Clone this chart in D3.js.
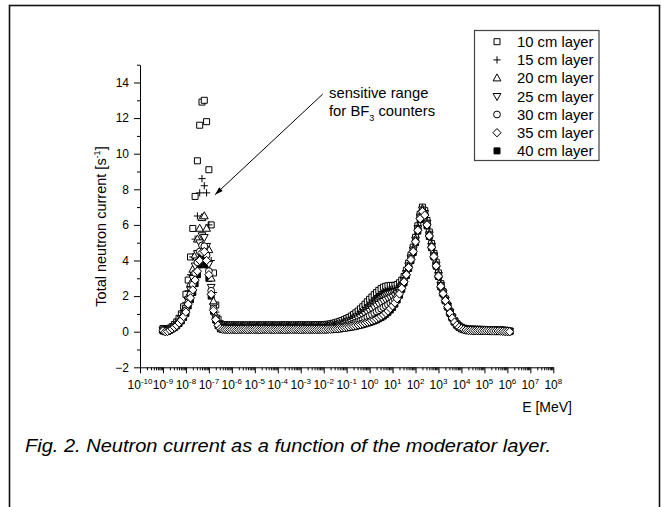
<!DOCTYPE html>
<html><head><meta charset="utf-8">
<script src="https://cdn.jsdelivr.net/npm/d3@7"></script>
<style>
body{margin:0;background:#fff}
svg{display:block}
text{font-family:"Liberation Sans",Arial,Helvetica,sans-serif;fill:#000}
</style>
</head><body>
<svg id="chart" width="669" height="507"></svg>
<script>
// ---------- DATA ----------
// energy grid, as exponents of 10 (MeV)
const energyExponent = [
-9.0,-8.9,-8.8,-8.7,-8.6,-8.5,-8.4,-8.3,-8.2,-8.1,
-8.0,-7.9,-7.8,-7.7,-7.6,-7.5,-7.4,-7.3,-7.2,-7.1,
-7.0,-6.9,-6.8,-6.7,-6.6,-6.5,-6.4,-6.3,-6.2,-6.1,
-6.0,-5.9,-5.8,-5.7,-5.6,-5.5,-5.4,-5.3,-5.2,-5.1,
-5.0,-4.9,-4.8,-4.7,-4.6,-4.5,-4.4,-4.3,-4.2,-4.1,
-4.0,-3.9,-3.8,-3.7,-3.6,-3.5,-3.4,-3.3,-3.2,-3.1,
-3.0,-2.9,-2.8,-2.7,-2.6,-2.5,-2.4,-2.3,-2.2,-2.1,
-2.0,-1.9,-1.8,-1.7,-1.6,-1.5,-1.4,-1.3,-1.2,-1.1,
-1.0,-0.9,-0.8,-0.7,-0.6,-0.5,-0.4,-0.3,-0.2,-0.1,
0.0,0.1,0.2,0.3,0.4,0.5,0.6,0.7,0.8,0.9,
1.0,1.1,1.2,1.3,1.4,1.5,1.6,1.7,1.8,1.9,
2.0,2.1,2.2,2.3,2.4,2.5,2.6,2.7,2.8,2.9,
3.0,3.1,3.2,3.3,3.4,3.5,3.6,3.7,3.8,3.9,
4.0,4.1,4.2,4.3,4.4,4.5,4.6,4.7,4.8,4.9,
5.0,5.1,5.2,5.3,5.4,5.5,5.6,5.7,5.8,5.9,
6.0,6.1];

const layer10 = [
0.18,0.14,0.15,0.2,0.28,0.4,0.55,0.75,1.0,1.4,
2.1,2.9,4.2,5.8,7.6,9.6,11.6,12.9,13.0,11.8,
9.1,6.0,3.3,1.5,0.7,0.45,0.4,0.39,0.38,0.38,
0.38,0.38,0.38,0.37,0.38,0.38,0.37,0.38,0.38,0.38,
0.37,0.38,0.38,0.38,0.38,0.37,0.38,0.38,0.38,0.38,
0.37,0.38,0.38,0.38,0.38,0.38,0.37,0.38,0.38,0.38,
0.38,0.38,0.38,0.38,0.38,0.39,0.39,0.39,0.39,0.4,
0.40,0.41,0.42,0.44,0.47,0.5,0.54,0.58,0.63,0.68,
0.74,0.8,0.88,0.96,1.06,1.16,1.28,1.4,1.54,1.68,
1.82,1.95,2.08,2.2,2.32,2.42,2.5,2.55,2.58,2.6,
2.6,2.6,2.65,2.75,2.9,3.1,3.45,3.85,4.3,4.75,
5.3,5.95,6.6,7.0,6.8,6.25,5.6,4.95,4.4,3.9,
3.3,2.7,2.25,1.85,1.5,1.15,0.85,0.62,0.45,0.33,
0.25,0.2,0.17,0.15,0.15,0.14,0.14,0.13,0.13,0.13,
0.12,0.12,0.12,0.12,0.11,0.11,0.1,0.1,0.09,0.08,
0.06,0.05];

const layer15 = [
0.15,0.11,0.12,0.17,0.25,0.35,0.48,0.66,0.88,1.18,
1.65,2.3,3.2,4.2,5.2,6.5,7.8,8.6,8.2,7.8,
6.0,4.0,2.2,1.1,0.55,0.38,0.34,0.33,0.33,0.33,
0.33,0.33,0.32,0.33,0.33,0.33,0.32,0.33,0.33,0.33,
0.32,0.33,0.33,0.33,0.33,0.32,0.33,0.33,0.33,0.33,
0.33,0.32,0.33,0.33,0.33,0.33,0.33,0.32,0.33,0.33,
0.33,0.33,0.33,0.33,0.33,0.33,0.34,0.34,0.34,0.34,
0.34,0.35,0.36,0.38,0.4,0.43,0.46,0.5,0.54,0.59,
0.64,0.7,0.77,0.84,0.93,1.02,1.13,1.24,1.36,1.48,
1.6,1.73,1.85,1.97,2.08,2.17,2.24,2.3,2.35,2.38,
2.4,2.42,2.5,2.6,2.78,3.0,3.38,3.8,4.25,4.7,
5.25,5.9,6.55,6.95,6.75,6.2,5.55,4.9,4.35,3.85,
3.25,2.65,2.22,1.82,1.47,1.12,0.83,0.6,0.43,0.31,
0.23,0.18,0.15,0.13,0.13,0.12,0.12,0.11,0.11,0.11,
0.1,0.1,0.1,0.1,0.09,0.09,0.09,0.08,0.07,0.06,
0.05,0.04];

const layer20 = [
0.12,0.08,0.1,0.15,0.22,0.32,0.44,0.6,0.8,1.05,
1.45,2.0,2.7,3.5,4.3,5.2,5.8,6.4,6.5,5.8,
4.6,3.0,1.7,0.9,0.48,0.32,0.29,0.28,0.28,0.28,
0.28,0.28,0.27,0.28,0.28,0.28,0.28,0.27,0.28,0.28,
0.28,0.27,0.28,0.28,0.28,0.28,0.28,0.28,0.27,0.28,
0.28,0.28,0.28,0.27,0.28,0.28,0.28,0.28,0.28,0.28,
0.27,0.28,0.28,0.28,0.28,0.28,0.28,0.29,0.29,0.29,
0.29,0.3,0.31,0.32,0.34,0.36,0.39,0.42,0.46,0.5,
0.55,0.6,0.66,0.72,0.8,0.88,0.97,1.07,1.18,1.29,
1.4,1.51,1.62,1.73,1.83,1.92,2.0,2.06,2.11,2.15,
2.18,2.22,2.32,2.45,2.68,2.95,3.33,3.75,4.2,4.65,
5.2,5.85,6.5,6.9,6.7,6.15,5.5,4.85,4.3,3.8,
3.2,2.62,2.2,1.8,1.45,1.1,0.81,0.58,0.41,0.29,
0.21,0.16,0.13,0.11,0.11,0.1,0.1,0.1,0.1,0.09,
0.09,0.09,0.08,0.08,0.08,0.08,0.07,0.07,0.06,0.05,
0.04,0.03];

const layer25 = [
0.1,0.05,0.07,0.13,0.2,0.29,0.41,0.55,0.73,0.95,
1.3,1.8,2.35,3.0,3.7,4.4,5.0,5.4,5.3,4.8,
3.8,2.5,1.4,0.78,0.42,0.27,0.24,0.23,0.23,0.23,
0.23,0.23,0.22,0.23,0.23,0.23,0.22,0.23,0.23,0.23,
0.23,0.22,0.23,0.23,0.23,0.23,0.22,0.23,0.23,0.23,
0.22,0.23,0.23,0.23,0.23,0.23,0.22,0.23,0.23,0.23,
0.23,0.23,0.22,0.23,0.23,0.23,0.23,0.23,0.24,0.24,
0.24,0.24,0.25,0.26,0.27,0.29,0.31,0.34,0.37,0.41,
0.45,0.49,0.54,0.59,0.65,0.72,0.8,0.88,0.97,1.06,
1.15,1.25,1.35,1.45,1.54,1.63,1.71,1.78,1.84,1.9,
1.95,2.02,2.14,2.3,2.56,2.88,3.28,3.7,4.15,4.6,
5.15,5.8,6.45,6.85,6.65,6.1,5.45,4.8,4.27,3.75,
3.17,2.6,2.18,1.78,1.43,1.08,0.79,0.56,0.39,0.27,
0.19,0.14,0.11,0.1,0.09,0.09,0.09,0.08,0.08,0.08,
0.08,0.07,0.07,0.07,0.07,0.06,0.06,0.05,0.05,0.04,
0.03,0.02];

const layer30 = [
0.08,0.03,0.05,0.11,0.18,0.27,0.38,0.52,0.68,0.9,
1.2,1.65,2.1,2.65,3.3,3.9,4.5,4.85,4.8,4.3,
3.4,2.3,1.3,0.72,0.38,0.22,0.19,0.18,0.18,0.18,
0.18,0.18,0.17,0.18,0.18,0.18,0.18,0.17,0.18,0.18,
0.18,0.18,0.17,0.18,0.18,0.18,0.18,0.18,0.17,0.18,
0.18,0.18,0.18,0.17,0.18,0.18,0.18,0.18,0.18,0.18,
0.17,0.18,0.18,0.18,0.18,0.18,0.18,0.18,0.19,0.19,
0.19,0.19,0.2,0.2,0.21,0.23,0.25,0.27,0.29,0.32,
0.35,0.38,0.42,0.46,0.51,0.56,0.62,0.68,0.75,0.82,
0.9,0.97,1.05,1.13,1.21,1.29,1.37,1.44,1.52,1.6,
1.69,1.8,1.97,2.2,2.5,2.84,3.23,3.65,4.1,4.55,
5.1,5.75,6.4,6.8,6.6,6.05,5.42,4.78,4.25,3.72,
3.15,2.58,2.16,1.76,1.41,1.06,0.78,0.55,0.38,0.26,
0.18,0.13,0.1,0.08,0.08,0.07,0.07,0.07,0.07,0.06,
0.06,0.06,0.06,0.05,0.05,0.05,0.05,0.04,0.03,0.02,
0.01,0.0];

const layer35 = [
0.05,0.0,0.02,0.09,0.16,0.25,0.35,0.49,0.65,0.85,
1.1,1.55,1.9,2.35,2.9,3.4,4.0,4.45,4.5,4.0,
3.2,2.1,1.2,0.68,0.36,0.18,0.14,0.13,0.13,0.13,
0.13,0.13,0.12,0.13,0.13,0.13,0.13,0.12,0.13,0.13,
0.13,0.13,0.12,0.13,0.13,0.13,0.13,0.13,0.12,0.13,
0.13,0.13,0.13,0.12,0.13,0.13,0.13,0.13,0.13,0.13,
0.12,0.13,0.13,0.13,0.13,0.13,0.13,0.13,0.13,0.13,
0.13,0.13,0.14,0.14,0.15,0.16,0.17,0.19,0.21,0.23,
0.25,0.27,0.3,0.32,0.35,0.38,0.41,0.45,0.49,0.53,
0.57,0.62,0.67,0.73,0.8,0.87,0.95,1.05,1.16,1.3,
1.45,1.62,1.85,2.12,2.44,2.8,3.2,3.6,4.05,4.5,
5.05,5.7,6.35,6.75,6.55,6.0,5.38,4.75,4.22,3.7,
3.12,2.55,2.14,1.75,1.4,1.05,0.77,0.54,0.37,0.25,
0.17,0.12,0.09,0.07,0.07,0.06,0.06,0.06,0.06,0.05,
0.05,0.05,0.05,0.04,0.04,0.04,0.04,0.03,0.02,0.01,
0.01,0.0];

const layer40 = [
0.04,0.0,0.01,0.08,0.15,0.23,0.33,0.46,0.61,0.8,
1.03,1.45,1.8,2.2,2.7,3.2,3.75,4.15,4.2,3.75,
3.0,2.0,1.15,0.65,0.34,0.16,0.12,0.11,0.11,0.11,
0.11,0.11,0.1,0.11,0.11,0.11,0.11,0.1,0.11,0.11,
0.11,0.11,0.1,0.11,0.11,0.11,0.11,0.11,0.1,0.11,
0.11,0.11,0.11,0.1,0.11,0.11,0.11,0.11,0.11,0.11,
0.1,0.11,0.11,0.11,0.11,0.11,0.11,0.11,0.11,0.11,
0.11,0.11,0.12,0.12,0.13,0.14,0.15,0.16,0.18,0.2,
0.22,0.24,0.26,0.28,0.31,0.34,0.37,0.4,0.44,0.48,
0.52,0.56,0.61,0.66,0.73,0.8,0.88,0.98,1.09,1.22,
1.37,1.55,1.78,2.05,2.38,2.75,3.15,3.55,4.0,4.45,
5.0,5.65,6.3,6.7,6.5,5.95,5.35,4.72,4.2,3.68,
3.1,2.52,2.12,1.73,1.38,1.03,0.76,0.53,0.36,0.24,
0.16,0.11,0.08,0.06,0.06,0.05,0.05,0.05,0.05,0.04,
0.04,0.04,0.04,0.03,0.03,0.03,0.03,0.02,0.02,0.01,
0.01,0.0];

const seriesLabels = ["10 cm layer","15 cm layer","20 cm layer","25 cm layer","30 cm layer","35 cm layer","40 cm layer"];
const seriesSymbols = ["square","plus","triUp","triDown","circle","diamond","filledSquare"];
const seriesValues = [layer10, layer15, layer20, layer25, layer30, layer35, layer40];
const drawOrder = [6,0,1,2,3,4,5];

const yMajorTicks = [-2,0,2,4,6,8,10,12,14];
const yMinorTicks = [-1,1,3,5,7,9,11,13,15];
const xMajorExponents = [-10,-9,-8,-7,-6,-5,-4,-3,-2,-1,0,1,2,3,4,5,6,7,8];

const yAxisTitle = "Total neutron current [s";
const xAxisTitle = "E [MeV]";
const noteLine1 = "sensitive range";
const captionText = "Fig. 2. Neutron current as a function of the moderator layer.";
// annotation arrow, in data coordinates: [exponent, value]
const arrowFrom = [-2.04, 13.35];
const arrowTo = [-6.73, 7.7];

// ---------- CHART ----------
const svg = d3.select("#chart");
svg.append("rect").attr("x",0).attr("y",0).attr("width",669).attr("height",507).attr("fill","#fff");
svg.append("rect").attr("x",9.5).attr("y",5.5).attr("width",650).attr("height",530)
  .attr("fill","none").attr("stroke","#111").attr("stroke-width",1.6);

const x = d3.scaleLog().domain([1e-10,1e8]).range([140,553.3]);
const y = d3.scaleLinear().domain([-2,15]).range([367.3,64.7]);

// y axis
const yAxisG = svg.append("g").attr("transform","translate(140,0)");
yAxisG.call(d3.axisLeft(y).tickValues(yMajorTicks).tickSize(6).tickSizeOuter(0).tickPadding(5).tickFormat(d3.format("d")));
svg.append("g").attr("transform","translate(140,0)")
  .call(d3.axisLeft(y).tickValues(yMinorTicks).tickSize(3).tickSizeOuter(0).tickFormat(""))
  .select(".domain").remove();
yAxisG.selectAll("text").style("font-size","12px").style("font-family","'Liberation Sans',Arial,sans-serif");

// x axis
const xAxisY = y(-2);
const xMajorVals = xMajorExponents.map(e => Math.pow(10,e));
const xMinorVals = [];
xMajorExponents.slice(0,-1).forEach(e => { [2,3,4,5,6,7,8,9].forEach(m => xMinorVals.push(m*Math.pow(10,e))); });
const xAxisG = svg.append("g").attr("transform",`translate(0,${xAxisY})`);
xAxisG.call(d3.axisBottom(x).tickValues(xMajorVals).tickSize(6).tickSizeOuter(0).tickFormat(""));
svg.append("g").attr("transform",`translate(0,${xAxisY})`)
  .call(d3.axisBottom(x).tickValues(xMinorVals).tickSize(3).tickSizeOuter(0).tickFormat(""))
  .select(".domain").remove();
svg.selectAll(".domain, .tick line").attr("stroke","#000").attr("stroke-width",1);

xMajorExponents.forEach(e => {
  const t = svg.append("text").attr("x", x(Math.pow(10,e))).attr("y", xAxisY+21.5)
    .attr("text-anchor","middle").style("font-size","12px");
  t.append("tspan").text("10");
  t.append("tspan").attr("dy",-5).style("font-size","8px").text(String(e));
});

// axis titles
const yt = svg.append("text").attr("transform","translate(106,226.5) rotate(-90)")
  .attr("text-anchor","middle").style("font-size","14.5px");
yt.append("tspan").text(yAxisTitle);
yt.append("tspan").attr("dy",-6).style("font-size","9px").text("-1");
yt.append("tspan").attr("dy",6).text("]");

svg.append("text").attr("x",572).attr("y",412).attr("text-anchor","end").style("font-size","14px").text(xAxisTitle);

// symbols
function symbolPath(type){
  switch(type){
    case "square": case "filledSquare": return "M-3,-3h6v6h-6z";
    case "plus": return "M-3.6,0h7.2M0,-3.6v7.2";
    case "triUp": return "M0,-4.2L3.9,2.8L-3.9,2.8Z";
    case "triDown": return "M0,4.2L3.9,-2.8L-3.9,-2.8Z";
    case "diamond": return "M0,-4.2L4.1,0L0,4.2L-4.1,0Z";
  }
  return null;
}
function drawSymbol(g, type, cx, cy){
  if(type==="circle"){
    g.append("circle").attr("cx",cx).attr("cy",cy).attr("r",3.4)
      .attr("fill","#fff").attr("stroke","#000").attr("stroke-width",1);
  } else {
    g.append("path").attr("d",symbolPath(type)).attr("transform",`translate(${cx},${cy})`)
      .attr("fill", type==="plus" ? "none" : (type==="filledSquare" ? "#000" : "#fff"))
      .attr("stroke","#000").attr("stroke-width",1);
  }
}

const plotG = svg.append("g");
drawOrder.forEach(si => {
  const vals = seriesValues[si];
  const g = plotG.append("g");
  const n = Math.min(vals.length, energyExponent.length);
  for(let i=0;i<n;i++){
    drawSymbol(g, seriesSymbols[si], x(Math.pow(10,energyExponent[i])), y(vals[i]));
  }
});

// legend
const lg = svg.append("g");
lg.append("rect").attr("x",474.5).attr("y",30.5).attr("width",124.5).attr("height",130)
  .attr("fill","#fff").attr("stroke","#444").attr("stroke-width",1.2);
seriesLabels.forEach((lab,i) => {
  const cy = 41.7 + i*18.2;
  drawSymbol(lg, seriesSymbols[i], 497, cy);
  lg.append("text").attr("x",517).attr("y",cy+5.2).style("font-size","14.8px").text(lab);
});

// annotation
const ax1 = x(Math.pow(10,arrowFrom[0])), ay1 = y(arrowFrom[1]);
const ax2 = x(Math.pow(10,arrowTo[0])), ay2 = y(arrowTo[1]);
svg.append("line").attr("x1",ax1).attr("y1",ay1).attr("x2",ax2).attr("y2",ay2)
  .attr("stroke","#000").attr("stroke-width",1);
const ang = Math.atan2(ay2-ay1, ax2-ax1);
const hl = 8, hw = 2.6;
const bx = ax2 - hl*Math.cos(ang), by = ay2 - hl*Math.sin(ang);
svg.append("path").attr("d",`M${ax2},${ay2}L${bx + hw*Math.sin(ang)},${by - hw*Math.cos(ang)}L${bx - hw*Math.sin(ang)},${by + hw*Math.cos(ang)}Z`)
  .attr("fill","#000");
svg.append("text").attr("x",329).attr("y",98).style("font-size","14.8px").text(noteLine1);
const n2 = svg.append("text").attr("x",329).attr("y",116).style("font-size","14.8px");
n2.append("tspan").text("for BF");
n2.append("tspan").attr("dy",5).style("font-size","9px").text("3");
n2.append("tspan").attr("dy",-5).text(" counters");

// caption
svg.append("text").attr("x",25).attr("y",452).style("font-size","19px").style("font-style","italic")
  .attr("textLength",526).attr("lengthAdjust","spacingAndGlyphs").text(captionText);
</script>
</body></html>
